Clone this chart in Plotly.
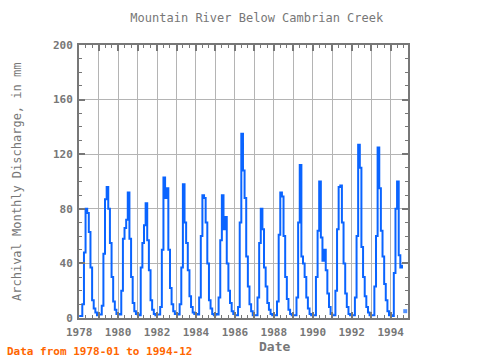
import plotly.graph_objects as go
import pandas as pd

# Monthly discharge (mm), Jan..Dec
flow_1978 = [1.5, 1.5, 10, 48, 80, 77, 63, 37, 13, 7, 4, 2]
flow_1979 = [2.5, 2.5, 9, 47, 87, 96, 80, 55, 30, 12, 6, 3]
flow_1980 = [3, 2.5, 20, 58, 66, 72, 92, 58, 30, 11, 5, 3]
flow_1981 = [2.5, 2, 37, 55, 68, 84, 57, 35, 13, 6, 3, 2]
flow_1982 = [2.5, 2.5, 8, 50, 103, 88, 95, 50, 22, 10, 5, 3]
flow_1983 = [3, 2.5, 10, 37, 98, 70, 55, 35, 16, 8, 4, 3]
flow_1984 = [3, 2.5, 15, 60, 90, 88, 70, 40, 13, 7, 3, 2]
flow_1985 = [3, 2.5, 15, 57, 90, 65, 74, 40, 20, 11, 5, 3]
flow_1986 = [2, 2, 8, 70, 135, 108, 88, 45, 23, 10, 5, 2]
flow_1987 = [2, 2, 15, 55, 80, 65, 37, 23, 11, 6, 3, 2]
flow_1988 = [2, 2, 12, 61, 92, 89, 60, 30, 14, 6, 3, 2]
flow_1989 = [2, 2, 15, 70, 112, 45, 40, 30, 15, 7, 3, 2]
flow_1990 = [2, 2, 30, 64, 100, 59, 42, 50, 35, 18, 8, 3]
flow_1991 = [2, 2, 20, 65, 96, 97, 70, 40, 18, 8, 3, 2]
flow_1992 = [2, 2, 15, 60, 127, 110, 52, 30, 16, 8, 4, 2]
flow_1993 = [2, 2, 23, 60, 125, 95, 64, 45, 25, 13, 5, 2]
flow_1994 = [2, 1.5, 33, 80, 100, 46, 37, 39, None, 5, None, None]

years = list(range(1978, 1995))
yearly = [flow_1978, flow_1979, flow_1980, flow_1981, flow_1982, flow_1983,
          flow_1984, flow_1985, flow_1986, flow_1987, flow_1988, flow_1989,
          flow_1990, flow_1991, flow_1992, flow_1993, flow_1994]

y_ticks = [0, 40, 80, 120, 160, 200]
x_tick_years = list(range(1978, 1995))

dates = pd.date_range("1978-01-01", "1994-12-01", freq="MS")
values = [v for yr in yearly for v in yr]

# isolated points get a visible marker
sizes = []
for i, v in enumerate(values):
    prev_ok = i > 0 and values[i - 1] is not None
    next_ok = i < len(values) - 1 and values[i + 1] is not None
    sizes.append(4 if (v is not None and not prev_ok and not next_ok) else 0)

BLUE = "#0a64ff"
GRAY = "#777777"
FONT = "DejaVu Sans Mono"

fig = go.Figure()
fig.add_trace(go.Scatter(
    x=dates, y=values, mode="lines+markers",
    line=dict(color=BLUE, width=2, shape="hv"),
    marker=dict(color=BLUE, size=sizes, symbol="square", line=dict(width=0)),
    connectgaps=False, showlegend=False, hoverinfo="skip"))

tickvals = [f"{y}-01-01" for y in x_tick_years]
ticktext = [f"<b>{y}</b>" if (y - 1978) % 2 == 0 else "" for y in x_tick_years]

fig.update_layout(
    width=480, height=360,
    margin=dict(l=79, r=72, t=45, b=42),
    paper_bgcolor="white", plot_bgcolor="white",
    font=dict(family=FONT, color=GRAY, size=11),
    title=dict(text="Mountain River Below Cambrian Creek", x=0.535, xanchor="center",
               y=0.95, yanchor="middle", font=dict(family=FONT, size=12, color=GRAY)),
    xaxis=dict(
        type="date", range=["1977-12-29", "1994-11-22"],
        tickvals=tickvals, ticktext=ticktext,
        showgrid=True, gridcolor="#b4b4b4", gridwidth=1,
        showline=True, linecolor=GRAY, linewidth=2, mirror="ticks",
        ticks="inside", ticklen=6, tickcolor=GRAY, tickwidth=2,
        minor=dict(dtick="M4", ticks="inside", ticklen=3, tickcolor=GRAY, tickwidth=1, showgrid=False),
        tickfont=dict(family=FONT, size=11, color=GRAY),
        ticklabelstandoff=3,
        zeroline=False),
    yaxis=dict(
        range=[0, 200], tickvals=y_ticks,
        ticktext=[f"<b>{v}</b>" for v in y_ticks],
        showgrid=True, gridcolor="#b4b4b4", gridwidth=1,
        showline=True, linecolor=GRAY, linewidth=2, mirror="ticks",
        ticks="inside", ticklen=6, tickcolor=GRAY, tickwidth=2,
        minor=dict(dtick=10, ticks="inside", ticklen=3, tickcolor=GRAY, tickwidth=1, showgrid=False),
        tickfont=dict(family=FONT, size=11, color=GRAY),
        ticklabelstandoff=2,
        zeroline=False),
    annotations=[
        dict(text="<b>Date</b>", xref="paper", yref="paper", x=(274 - 79) / 329, y=-0.106,
             xanchor="center", yanchor="middle", showarrow=False,
             font=dict(family=FONT, size=13, color=GRAY)),
        dict(text="Archival Monthly Discharge, in mm", xref="paper", yref="paper",
             x=-0.19, y=0.5, textangle=-90, xanchor="center", yanchor="middle",
             showarrow=False, font=dict(family=FONT, size=12, color=GRAY)),
        dict(text="<b>Data from 1978-01 to 1994-12</b>", xref="paper", yref="paper",
             x=(5 - 79) / 329, y=-0.124, xanchor="left", yanchor="middle", showarrow=False,
             font=dict(family=FONT, size=11, color="#ff6600")),
    ],
)

fig.write_html("out.html", config={"displayModeBar": False},
               post_script="document.body.style.margin='0';document.body.style.padding='0';")
